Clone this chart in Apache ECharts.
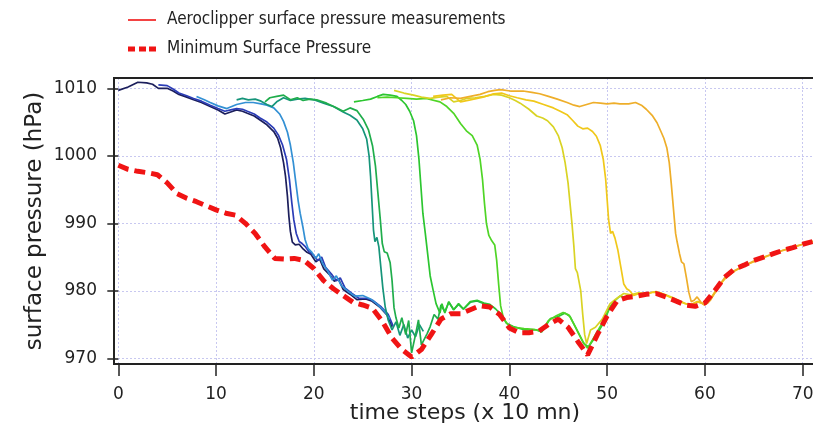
<!DOCTYPE html>
<html>
<head>
<meta charset="utf-8">
<script src="https://cdn.jsdelivr.net/npm/echarts@6/dist/echarts.min.js"></script>
<style>
  html, body { margin: 0; padding: 0; background: #ffffff; }
  #chart { width: 813px; height: 427px; }
</style>
</head>
<body>
<div id="chart"></div>
<script>
// Axis ticks
const xTicks = [0, 10, 20, 30, 40, 50, 60, 70];
const yTicks = [970, 980, 990, 1000, 1010];

// Minimum surface pressure (hPa), one value per time step 0..71
const minPressure = [
  998.6, 998.0, 997.7, 997.5, 997.2, 996.0, 994.4, 993.7, 993.2, 992.6,
  992.0, 991.5, 991.2, 990.0, 988.5, 986.5, 984.8, 984.7, 984.8, 984.5,
  983.3, 981.5, 980.3, 979.3, 978.3, 977.9, 977.4, 975.5, 973.0, 971.3,
  970.2, 971.3, 973.5, 975.8, 976.6, 976.6, 977.2, 977.8, 977.6, 976.5,
  974.5, 973.8, 973.8, 974.0, 975.0, 975.8, 974.6, 972.5, 970.5, 973.5,
  976.3, 978.5, 979.0, 979.2, 979.5, 979.6, 979.1, 978.5, 977.9, 977.7,
  978.2, 980.0, 982.0, 983.2, 983.8, 984.5, 985.0, 985.5, 986.0, 986.4,
  986.9, 987.3
];

// Aeroclipper tracks: [time step, surface pressure]
const clipper01 = [[0,1009.7],[1,1010.2],[2,1010.9],[2.9,1010.8],[3.5,1010.6],[4.1,1010.0],[5,1010.0],[5.6,1009.6],[6.2,1009.1],[7,1008.7],[7.7,1008.3],[8.5,1007.9],[9.4,1007.3],[10.2,1006.8],[10.9,1006.2],[11.5,1006.5],[12.1,1006.8],[12.7,1006.6],[13.2,1006.3],[13.9,1005.9],[14.5,1005.3],[15.2,1004.6],[15.9,1003.6],[16.3,1002.6],[16.6,1001.2],[16.9,999.0],[17.1,997.0],[17.3,994.0],[17.45,991.0],[17.6,988.8],[17.8,987.2],[18.1,986.8],[18.5,986.9],[18.9,986.2],[19.3,985.7],[19.7,985.4],[20.2,984.3],[20.6,984.7],[21.0,983.3],[21.6,982.4],[22.1,981.4],[22.5,981.8],[23.0,980.2],[23.7,979.5],[24.4,978.7],[25.3,978.8],[25.9,978.5],[26.8,977.5],[27.5,976.4],[28.0,974.6]];
const clipper02 = [[4.1,1010.5],[5,1010.4],[5.6,1009.9],[6.2,1009.3],[7,1008.9],[7.7,1008.5],[8.5,1008.1],[9.4,1007.5],[10.2,1007.0],[10.9,1006.6],[11.5,1006.8],[12.1,1007.0],[12.7,1006.9],[13.2,1006.6],[13.9,1006.2],[14.5,1005.6],[15.2,1005.0],[15.9,1004.1],[16.4,1003.0],[16.8,1001.6],[17.2,999.5],[17.5,996.5],[17.75,993.0],[17.95,990.5],[18.2,988.5],[18.5,987.3],[18.8,987.0],[19.1,986.6],[19.5,985.8],[19.9,985.4],[20.4,984.5],[20.8,985.0],[21.2,983.5],[21.8,982.5],[22.3,981.5],[22.7,981.9],[23.2,980.4],[23.9,979.6],[24.6,978.9],[25.4,978.9],[26.0,978.6],[26.9,977.6],[27.6,976.5],[28.1,974.8]];
const clipper03 = [[8,1008.8],[8.8,1008.3],[9.4,1007.9],[10.2,1007.4],[11.1,1007.0],[11.6,1007.3],[12.1,1007.6],[13,1007.9],[13.8,1007.9],[14.6,1007.7],[15.2,1007.5],[15.9,1007.1],[16.5,1006.2],[16.9,1005.1],[17.3,1003.5],[17.6,1001.6],[17.9,999.0],[18.1,996.7],[18.4,993.3],[18.6,991.5],[18.9,989.3],[19.1,987.6],[19.4,986.3],[19.8,985.7],[20.2,984.8],[20.5,985.5],[20.9,984.0],[21.4,983.0],[21.9,981.6],[22.3,982.2],[22.8,980.8],[23.5,979.9],[24.2,979.2],[25.0,979.3],[25.8,978.8],[26.5,978.0],[27.2,977.0],[27.8,975.8]];
const clipper04 = [[12.1,1008.3],[12.7,1008.5],[13.3,1008.3],[14,1008.4],[14.6,1008.1],[15.2,1007.6],[15.7,1007.3],[16.2,1008.0],[16.9,1008.6],[17.6,1008.2],[18.3,1008.4],[19.1,1008.5],[20,1008.3],[21,1007.8],[22,1007.3],[23,1006.5],[23.7,1006.0],[24.4,1005.3],[25.0,1004.0],[25.4,1002.5],[25.65,1000.0],[25.8,997.0],[25.95,993.0],[26.1,989.0],[26.25,987.3],[26.45,987.9],[26.65,986.5],[26.85,983.5],[27.05,980.5],[27.3,977.6],[27.6,975.7],[28.0,974.2],[28.4,975.4],[28.8,973.4],[29.2,975.0],[29.6,973.0],[30.0,974.2],[30.4,973.2],[30.8,975.0],[31.2,974.0]];
const clipper05 = [[15.0,1008.0],[15.5,1008.6],[16.2,1008.8],[16.9,1009.0],[17.6,1008.3],[18.3,1008.6],[18.9,1008.2],[19.6,1008.4],[20.3,1008.3],[21.3,1007.8],[22.2,1007.2],[23,1006.6],[23.7,1007.1],[24.4,1006.7],[25.1,1005.3],[25.6,1003.8],[26.0,1001.5],[26.3,998.5],[26.55,994.5],[26.8,990.5],[27.0,987.0],[27.2,985.8],[27.5,985.6],[27.8,984.2],[28.0,981.5],[28.2,977.5],[28.4,976.0],[28.7,974.5],[29.0,976.0],[29.4,973.5],[29.7,975.6],[30.0,970.8],[30.4,973.5],[30.7,975.7],[31.0,972.0],[31.6,973.7],[31.9,974.7],[32.3,976.5],[32.7,975.8],[33.0,977.9],[33.4,976.9],[33.8,978.3],[34.3,977.2],[34.8,978.0],[35.3,977.3],[36.0,978.3],[36.7,978.5],[37.4,978.1],[38.0,977.9]];
const clipper06 = [[24.1,1008.0],[25,1008.2],[25.8,1008.4],[26.5,1008.8],[27.1,1009.1],[27.8,1009.0],[28.5,1008.8],[29.0,1008.2],[29.4,1007.6],[29.8,1006.6],[30.2,1005.2],[30.5,1003.0],[30.75,999.5],[30.95,995.5],[31.15,991.5],[31.4,988.5],[31.6,986.0],[31.9,982.2],[32.2,980.1],[32.5,978.1],[32.9,976.7],[33.1,978.1],[33.4,976.7],[33.8,978.4],[34.3,977.2],[34.8,978.1],[35.3,977.3],[36,978.4],[36.7,978.6],[37.4,978.2],[38,978.0],[38.6,977.3],[39.2,976.4],[39.7,975.2],[40.4,974.7],[41.6,974.2],[42.8,974.2],[43.3,973.9],[44.2,975.9],[45,976.2],[45.7,976.7],[46.2,976.2],[46.9,974.2],[47.6,972.2],[48.1,971.7],[48.8,973.2],[49.6,975.2],[50.3,977.6],[50.8,978.5]];
const clipper07 = [[26.5,1008.6],[27.5,1008.7],[28.5,1008.6],[29.5,1008.5],[30.5,1008.4],[31.5,1008.5],[32.9,1008.0],[33.6,1007.3],[34.3,1006.3],[35.0,1004.8],[35.6,1003.7],[36.2,1003.0],[36.7,1001.6],[37.0,999.5],[37.25,996.5],[37.45,993.0],[37.65,990.0],[37.9,988.2],[38.2,987.4],[38.5,986.8],[38.7,984.5],[38.9,981.0],[39.1,977.8],[39.4,975.9],[39.9,974.9],[40.5,974.6],[41.5,974.4],[42.5,974.3],[43.3,974.0],[44.0,975.6],[44.8,976.3],[45.5,976.8],[46.1,976.4],[46.8,974.5],[47.5,972.5],[48.0,971.5],[48.6,973.0],[49.4,975.0],[50.0,976.8],[50.6,978.3],[51.3,979.2],[52.0,979.0],[52.6,979.3]];
const clipper08 = [[28.2,1009.7],[29.2,1009.3],[30.2,1009.0],[31,1008.7],[31.9,1008.5],[32.8,1008.7],[33.6,1008.8],[34.3,1008.0],[35,1008.2],[35.6,1008.5],[36.5,1008.6],[37.5,1008.8],[38.4,1009.1],[39.2,1009.0],[40,1008.6],[40.6,1008.2],[41.1,1007.8],[42,1006.9],[42.8,1005.9],[43.4,1005.6],[43.9,1005.2],[44.5,1004.3],[45.0,1003.0],[45.4,1001.2],[45.7,999.0],[46.0,996.0],[46.2,993.0],[46.4,990.0],[46.6,986.5],[46.75,983.3],[46.95,982.7],[47.15,982.5],[47.3,980.0],[47.5,976.5],[47.7,973.5],[47.9,972.2],[48.3,974.2],[48.8,974.6],[49.5,975.8],[50.3,978.1],[51.0,978.9],[51.7,979.6],[52.4,979.4],[53.2,979.7],[54.0,979.6],[55.0,979.9],[56.0,979.4],[57.0,978.8],[58.0,978.1],[58.6,977.9],[59.3,978.4],[60.0,978.0],[60.6,978.8],[61.3,980.3]];
const clipper09 = [[32.2,1008.8],[33.2,1009.0],[34.1,1009.1],[35,1008.0],[36,1008.3],[37.3,1008.7],[38.4,1009.2],[39.2,1009.3],[40.0,1008.9],[40.8,1008.6],[41.7,1008.3],[42.5,1008.1],[43.5,1007.6],[44.5,1007.1],[45.2,1006.6],[45.9,1006.1],[46.5,1005.2],[47.0,1004.4],[47.5,1004.0],[48.0,1004.1],[48.5,1003.6],[48.9,1002.9],[49.3,1001.5],[49.6,999.5],[49.85,996.5],[50.0,993.5],[50.15,990.5],[50.35,988.5],[50.55,988.8],[50.8,987.8],[51.1,986.0],[51.4,983.5],[51.7,981.0],[52.0,980.3],[52.3,980.0],[52.7,979.3],[53.3,979.6],[54.0,979.5],[54.7,979.8],[55.4,979.7],[56.2,979.2],[57.0,978.7],[57.8,978.2],[58.5,977.9],[59.2,978.4],[59.8,978.1],[60.4,978.5],[61.0,979.8],[61.6,981.0],[62.2,982.0],[63.0,982.9],[64.0,983.7],[65.0,984.3],[66.0,984.9],[67.0,985.5],[68.0,986.0],[69.0,986.4],[70.0,986.9],[71.0,987.3],[71.4,987.4]];
const clipper10 = [[33.0,1008.3],[34.0,1008.6],[35.0,1008.5],[36.0,1008.8],[37.0,1009.1],[37.8,1009.5],[38.5,1009.7],[39.1,1009.8],[40.1,1009.6],[41.4,1009.6],[42.3,1009.4],[43.1,1009.2],[44.0,1008.8],[44.9,1008.4],[45.9,1007.9],[46.6,1007.5],[47.2,1007.3],[47.9,1007.6],[48.6,1007.9],[49.3,1007.8],[50.0,1007.7],[50.7,1007.8],[51.3,1007.7],[52.2,1007.7],[52.9,1007.9],[53.5,1007.5],[54.0,1006.9],[54.6,1006.0],[55.1,1004.9],[55.5,1003.6],[55.8,1002.6],[56.1,1001.2],[56.35,999.0],[56.55,996.0],[56.7,993.5],[56.85,991.0],[57.0,988.5],[57.15,987.3],[57.4,985.5],[57.6,984.3],[57.85,984.0],[58.1,982.0],[58.35,979.8],[58.6,978.4],[58.9,978.6],[59.2,979.1],[59.6,978.3],[59.9,977.9],[60.3,978.2],[60.6,978.7],[61.0,979.7],[61.5,980.9],[62.0,981.9],[62.6,982.7],[63.3,983.2],[64.0,983.7],[65.0,984.4],[66.0,985.0],[67.0,985.5],[68.0,986.0],[69.0,986.5],[70.0,986.9],[71.0,987.3],[71.4,987.4]];

const clipperTracks = [clipper01, clipper02, clipper03, clipper04, clipper05,
                       clipper06, clipper07, clipper08, clipper09, clipper10];
const clipperColors = ['#1c1f5c', '#2b3cb6', '#3390d4', '#16957a', '#20ad4c',
                       '#2cc630', '#4fd526', '#d9d324', '#f0c81a', '#eeae2a'];

const measuredName = 'Aeroclipper surface pressure measurements';
const minName = 'Minimum Surface Pressure';
const red = '#f01414';
const ink = '#222222';
const axisFont = '"DejaVu Sans", sans-serif';

// Plot frame geometry (px) and the value range it spans
const frame = { left: 114, top: 78, width: 702, height: 286 };
const xRange = [-0.44, 71.36];
const yRange = [969.156, 1011.53];
// px per unit, used to place the tick axes on the same scale as the frame
const xScale = frame.width / (xRange[1] - xRange[0]);
const yScale = frame.height / (yRange[1] - yRange[0]);
const xTickSpan = [xTicks[0], xTicks[xTicks.length - 1]];
const yTickSpan = [yTicks[0], yTicks[yTicks.length - 1]];
const tickGrid = {
  left: frame.left + (xTickSpan[0] - xRange[0]) * xScale,
  width: (xTickSpan[1] - xTickSpan[0]) * xScale,
  top: frame.top + (yRange[1] - yTickSpan[1]) * yScale,
  height: (yTickSpan[1] - yTickSpan[0]) * yScale
};
const xTickOffset = frame.top + frame.height - (tickGrid.top + tickGrid.height);
const yTickOffset = tickGrid.left - frame.left;

const gridLine = {
  show: true, showMinLine: false, showMaxLine: false,
  lineStyle: { color: '#c8c8f0', width: 1, type: [2, 2] }
};

const series = clipperTracks.map((track, i) => ({
  type: 'line',
  name: 'clipper' + (i + 1),
  data: track,
  symbol: 'none',
  lineStyle: { color: clipperColors[i], width: 1.7 },
  z: 2 + i
}));

// legend entry for the measured tracks
series.push({
  type: 'line', name: measuredName, data: [], symbol: 'none',
  lineStyle: { color: red, width: 1.5 }, itemStyle: { color: red }
});

series.push({
  type: 'line',
  name: minName,
  data: minPressure.map((v, i) => [i, v]),
  symbol: 'none',
  itemStyle: { color: red },
  lineStyle: { color: red, width: 5, type: [11, 6], cap: 'butt' },
  z: 20
});

const chart = echarts.init(document.getElementById('chart'), null, { renderer: 'canvas' });
chart.setOption({
  animation: false,
  backgroundColor: '#ffffff',
  legend: {
    left: 123,
    top: 5,
    orient: 'vertical',
    itemWidth: 28,
    itemHeight: 5,
    itemGap: 9,
    selectedMode: false,
    textStyle: {
      fontSize: 17,
      lineHeight: 20,
      color: ink,
      fontFamily: '"DejaVu Sans Condensed", "Liberation Sans", sans-serif',
      padding: [0, 0, 0, 6]
    },
    data: [
      { name: measuredName, icon: 'path://M0,0H28V1.6H0Z', itemStyle: { color: red, borderWidth: 0 } },
      { name: minName, icon: 'path://M0,0H7V5H0ZM11,0H18V5H11ZM21,0H28V5H21Z', itemStyle: { color: red, borderWidth: 0 } }
    ]
  },
  grid: [
    {
      left: frame.left, top: frame.top, width: frame.width, height: frame.height,
      outerBoundsMode: 'none', containLabel: false, z: 1,
      show: true, borderColor: ink, borderWidth: 2, backgroundColor: 'transparent'
    },
    {
      left: tickGrid.left, top: tickGrid.top, width: tickGrid.width, height: tickGrid.height,
      outerBoundsMode: 'none', containLabel: false,
      show: false
    }
  ],
  xAxis: [
    {
      gridIndex: 0,
      type: 'value',
      min: xRange[0], max: xRange[1],
      splitNumber: 7,
      name: 'time steps (x 10 mn)',
      nameLocation: 'middle',
      nameGap: 38,
      nameTextStyle: { fontSize: 22, color: ink, fontFamily: axisFont },
      axisLine: { show: true, onZero: false, lineStyle: { color: ink, width: 2 } },
      axisTick: { show: false },
      axisLabel: { show: false },
      splitLine: gridLine,
      z: 0
    },
    {
      gridIndex: 1,
      type: 'value',
      position: 'bottom',
      offset: xTickOffset,
      min: xTickSpan[0], max: xTickSpan[1], interval: 10,
      axisLine: { show: false },
      axisTick: { show: true, inside: false, length: 12, lineStyle: { color: ink, width: 1.5 } },
      axisLabel: { fontSize: 17, color: ink, fontFamily: axisFont, margin: 22 },
      splitLine: { show: false }
    }
  ],
  yAxis: [
    {
      gridIndex: 0,
      type: 'value',
      min: yRange[0], max: yRange[1],
      splitNumber: 4,
      name: 'surface pressure (hPa)',
      nameLocation: 'middle',
      nameGap: 67,
      nameTextStyle: { fontSize: 23, color: ink, fontFamily: axisFont },
      axisLine: { show: true, onZero: false, lineStyle: { color: ink, width: 2 } },
      axisTick: { show: false },
      axisLabel: { show: false },
      splitLine: gridLine,
      z: 0
    },
    {
      gridIndex: 1,
      type: 'value',
      position: 'left',
      offset: yTickOffset,
      min: yTickSpan[0], max: yTickSpan[1], interval: 10,
      axisLine: { show: false },
      axisTick: { show: true, inside: false, length: 11, lineStyle: { color: ink, width: 1.5 } },
      axisLabel: { fontSize: 17, color: ink, fontFamily: axisFont, margin: 17, formatter: v => String(v) },
      splitLine: { show: false }
    }
  ],
  series: series
});
</script>
</body>
</html>
